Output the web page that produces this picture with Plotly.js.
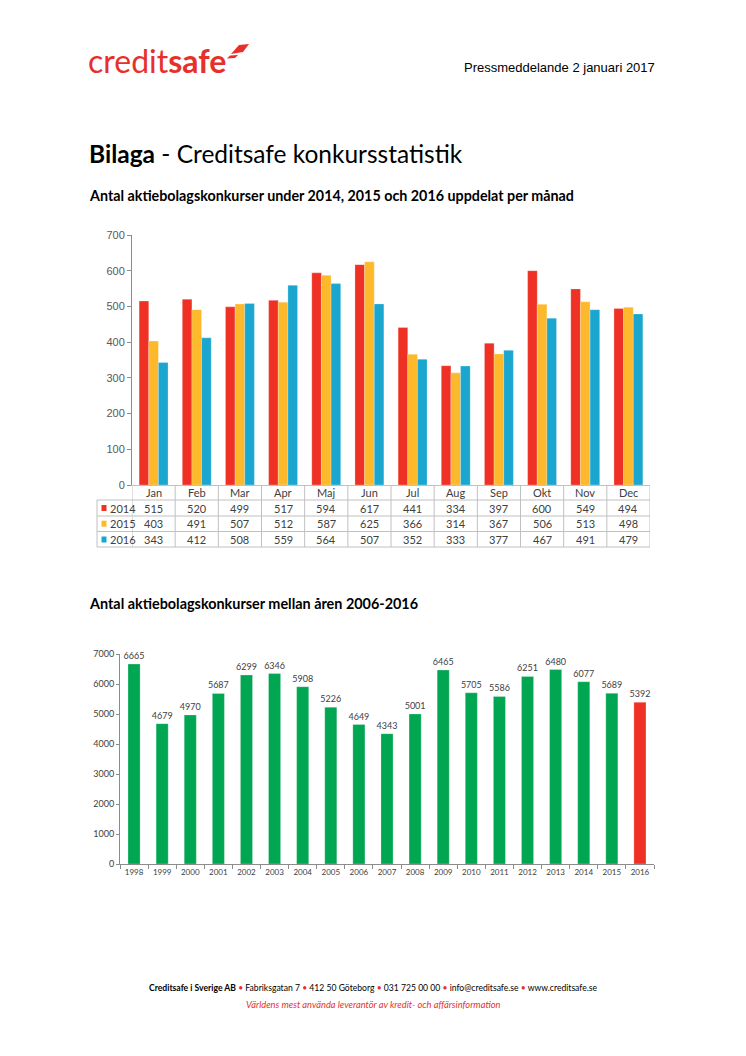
<!DOCTYPE html>
<html>
<head>
<meta charset="utf-8">
<script src="https://cdn.plot.ly/plotly-3.0.1.min.js"></script>
<style>html,body{margin:0;padding:0;background:#fff;}#chart{width:746px;height:1056px;}</style>
</head>
<body>
<div id="chart"></div>
<script>
// ---- Data ----
const months = ['Jan','Feb','Mar','Apr','Maj','Jun','Jul','Aug','Sep','Okt','Nov','Dec'];
const seriesNames = ['2014','2015','2016'];
const values2014 = [515,520,499,517,594,617,441,334,397,600,549,494];
const values2015 = [403,491,507,512,587,625,366,314,367,506,513,498];
const values2016 = [343,412,508,559,564,507,352,333,377,467,491,479];
const years = ['1998','1999','2000','2001','2002','2003','2004','2005','2006','2007','2008','2009','2010','2011','2012','2013','2014','2015','2016'];
const yearTotals = [6665,4679,4970,5687,6299,6346,5908,5226,4649,4343,5001,6465,5705,5586,6251,6480,6077,5689,5392];

// ---- Styling ----
const W = 746, H = 1056;
const px = x => x / W;
const py = y => 1 - y / H;
const RED = '#ee3124', YELLOW = '#fdb92b', BLUE = '#1ba6cf', GREEN = '#00a651';
const seriesColors = [RED, YELLOW, BLUE];
const seriesValues = [values2014, values2015, values2016];
const TXT = '#404040';
const BODY = 'Lato, "Open Sans", sans-serif';
const ARIAL = '"Liberation Sans", Arial, sans-serif';
const GRID = '#c0c0c0';

const traces = [];
seriesValues.forEach((vals, k) => {
  traces.push({
    type: 'bar', x: months, y: vals, name: seriesNames[k],
    marker: {color: seriesColors[k], line: {color: 'rgba(255,255,255,0.5)', width: 0.5}},
    xaxis: 'x', yaxis: 'y', hoverinfo: 'x+y+name'
  });
});
traces.push({
  type: 'bar', x: years, y: yearTotals, width: 0.43,
  marker: {color: years.map(y => y === '2016' ? RED : GREEN), line: {color: 'rgba(255,255,255,0.5)', width: 0.5}},
  text: yearTotals.map(String), textposition: 'outside', cliponaxis: false, constraintext: 'none',
  textfont: {family: BODY, size: 9, color: TXT},
  xaxis: 'x2', yaxis: 'y2', showlegend: false
});

const annotations = [];
const shapes = [];

// Header texts
annotations.push({xref:'paper', yref:'paper', x:px(86), y:py(61), xanchor:'left', yanchor:'middle', showarrow:false,
  text:'credit<b>safe</b>', font:{family:BODY, size:32, color:'#e8302a'}});
annotations.push({xref:'paper', yref:'paper', x:px(657), y:py(67), xanchor:'right', yanchor:'middle', showarrow:false,
  text:'Pressmeddelande 2 januari 2017', font:{family:ARIAL, size:13, color:'#000'}});
annotations.push({xref:'paper', yref:'paper', x:px(87), y:py(153), xanchor:'left', yanchor:'middle', showarrow:false,
  text:'<b>Bilaga</b> - Creditsafe konkursstatistik', font:{family:BODY, size:24.5, color:'#000'}});
annotations.push({xref:'paper', yref:'paper', x:px(87), y:py(196), xanchor:'left', yanchor:'middle', showarrow:false,
  text:'<b>Antal aktiebolagskonkurser under 2014, 2015 och 2016 uppdelat per månad</b>', font:{family:BODY, size:14.3, color:'#000'}});
annotations.push({xref:'paper', yref:'paper', x:px(87), y:py(603), xanchor:'left', yanchor:'middle', showarrow:false,
  text:'<b>Antal aktiebolagskonkurser mellan åren 2006-2016</b>', font:{family:BODY, size:14.4, color:'#000'}});
// Footer
const dot = '<span style="color:#e8302a">•</span>';
annotations.push({xref:'paper', yref:'paper', x:px(373), y:py(988), xanchor:'center', yanchor:'middle', showarrow:false,
  text:'<b>Creditsafe i Sverige AB</b> '+dot+' Fabriksgatan 7 '+dot+' 412 50 Göteborg '+dot+' 031 725 00 00 '+dot+' info@creditsafe.se '+dot+' www.creditsafe.se',
  font:{family:BODY, size:8.6, color:'#000'}});
annotations.push({xref:'paper', yref:'paper', x:px(373), y:py(1004), xanchor:'center', yanchor:'middle', showarrow:false,
  text:'<i>Världens mest använda leverantör av kredit- och affärsinformation</i>', font:{family:BODY, size:9.3, color:'#e8302a'}});

// Logo swoosh
function pathPx(pts){ return 'M ' + pts.map(p => px(p[0]) + ',' + py(p[1])).join(' L ') + ' Z'; }
shapes.push({type:'path', xref:'paper', yref:'paper', path: pathPx([[231,54],[239,45],[249,44],[243,52]]), fillcolor:'#e8302a', line:{width:0}});
shapes.push({type:'path', xref:'paper', yref:'paper', path: pathPx([[227,58.5],[230,55.5],[238,55],[235,58]]), fillcolor:'#e8302a', line:{width:0}});

// Data table under chart 1
const rowMonth = 493, rowCenters = [508, 523.7, 539.5];
const lineYs = [500, 516, 531.5, 547];
months.forEach((m, i) => {
  annotations.push({xref:'x', yref:'paper', x:m, y:py(rowMonth), showarrow:false, yanchor:'middle',
    text:m, font:{family:BODY, size:11, color:TXT}});
  seriesValues.forEach((vals, k) => {
    annotations.push({xref:'x', yref:'paper', x:m, y:py(rowCenters[k]), showarrow:false, yanchor:'middle',
      text:String(vals[i]), font:{family:BODY, size:11, color:TXT}});
  });
});
seriesNames.forEach((n, k) => {
  shapes.push({type:'rect', xref:'paper', yref:'paper', x0:px(101.5), x1:px(106.5), y0:py(rowCenters[k]-3), y1:py(rowCenters[k]+3),
    fillcolor:seriesColors[k], line:{width:0}});
  annotations.push({xref:'paper', yref:'paper', x:px(108), y:py(rowCenters[k]), xanchor:'left', yanchor:'middle', showarrow:false,
    text:n, font:{family:BODY, size:11, color:TXT}});
});
lineYs.forEach(yv => {
  shapes.push({type:'line', xref:'paper', yref:'paper', x0:px(97), x1:px(650), y0:py(yv), y1:py(yv), line:{color:GRID, width:1}});
});
shapes.push({type:'line', xref:'paper', yref:'paper', x0:px(97), x1:px(97), y0:py(500), y1:py(547), line:{color:GRID, width:1}});
for (let i = 0; i <= months.length; i++) {
  shapes.push({type:'line', xref:'x', yref:'paper', x0:i-0.5, x1:i-0.5, y0:py(485), y1:py(547), line:{color:GRID, width:1}});
}

const layout = {
  width: W, height: H, margin:{l:0, r:0, t:0, b:0},
  paper_bgcolor:'#fff', plot_bgcolor:'rgba(0,0,0,0)',
  showlegend:false, barmode:'group', bargap:0.33, bargroupgap:0,
  xaxis:{domain:[px(132), px(650)], anchor:'y', type:'category', range:[-0.5, 11.5],
    showticklabels:false, ticks:'', showline:true, linecolor:GRID, linewidth:1, showgrid:false, zeroline:false, fixedrange:true},
  yaxis:{domain:[py(485), py(235)], anchor:'x', range:[0,700], dtick:100, tick0:0,
    showline:true, linecolor:'#8c8c8c', linewidth:1, ticks:'outside', ticklen:4, tickcolor:'#8c8c8c',
    showgrid:false, zeroline:false, tickfont:{family:ARIAL, size:11, color:'#595959'}, fixedrange:true},
  xaxis2:{domain:[px(120), px(654)], anchor:'y2', type:'category', range:[-0.5, 18.5], tickangle:0,
    showline:true, linecolor:'#8c8c8c', linewidth:1, ticks:'outside', tickson:'boundaries', ticklen:4, tickcolor:'#8c8c8c',
    showgrid:false, zeroline:false, tickfont:{family:BODY, size:8, color:TXT}, fixedrange:true},
  yaxis2:{domain:[py(864), py(654)], anchor:'x2', range:[0,7000], dtick:1000, tick0:0,
    showline:true, linecolor:'#8c8c8c', linewidth:1, ticks:'outside', ticklen:3, tickcolor:'#8c8c8c',
    showgrid:false, zeroline:false, tickfont:{family:BODY, size:9, color:TXT}, fixedrange:true},
  annotations: annotations,
  shapes: shapes
};

Plotly.newPlot('chart', traces, layout, {displayModeBar:false, staticPlot:true});
</script>
</body>
</html>
